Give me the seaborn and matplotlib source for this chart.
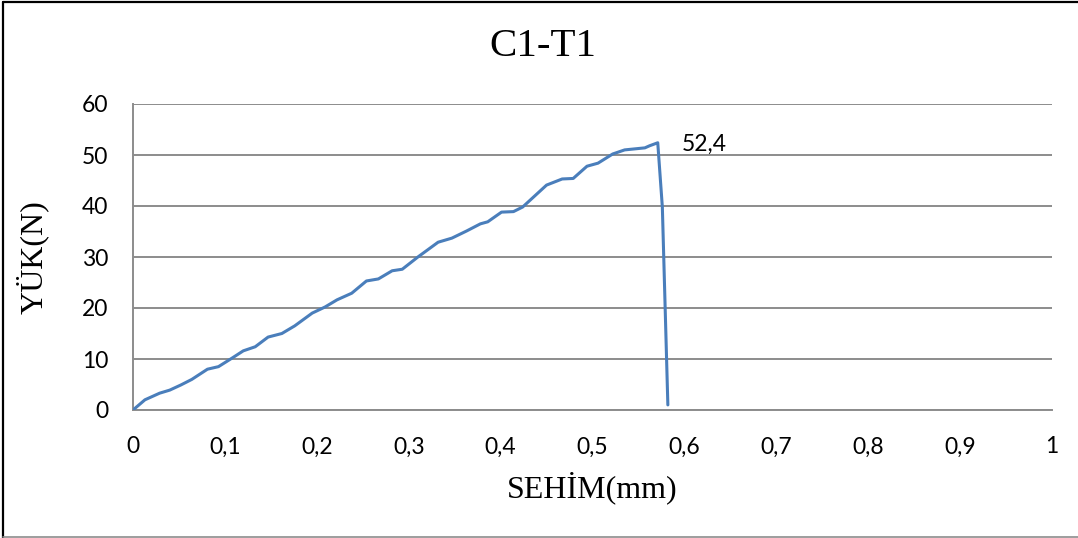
import matplotlib
matplotlib.use("Agg")
import matplotlib.pyplot as plt
from matplotlib.lines import Line2D
import seaborn as sns
import pandas as pd

# Load–deflection record for specimen C1-T1
sehim_mm = [0.000, 0.013, 0.029, 0.040, 0.052, 0.064, 0.081, 0.093, 0.108, 0.120,
            0.133, 0.147, 0.162, 0.176, 0.195, 0.209, 0.222, 0.238, 0.254, 0.267,
            0.282, 0.293, 0.310, 0.332, 0.347, 0.363, 0.378, 0.386, 0.401, 0.414,
            0.424, 0.450, 0.467, 0.479, 0.494, 0.506, 0.522, 0.535, 0.557, 0.562,
            0.571, 0.576, 0.582]
yuk_n = [0.0, 2.0, 3.3, 3.9, 4.9, 6.0, 8.0, 8.5, 10.2, 11.6,
         12.4, 14.3, 15.0, 16.5, 19.0, 20.2, 21.6, 22.9, 25.3, 25.7,
         27.3, 27.6, 30.0, 32.9, 33.7, 35.1, 36.5, 36.9, 38.8, 38.9,
         39.8, 44.1, 45.3, 45.4, 47.8, 48.4, 50.2, 51.0, 51.4, 51.8,
         52.4, 39.8, 1.0]

x_ticks = [0, 0.1, 0.2, 0.3, 0.4, 0.5, 0.6, 0.7, 0.8, 0.9, 1]
x_tick_labels = ["0", "0,1", "0,2", "0,3", "0,4", "0,5", "0,6", "0,7", "0,8", "0,9", "1"]
y_ticks = [0, 10, 20, 30, 40, 50, 60]

title = "C1-T1"
x_label = "SEHİM(mm)"
y_label = "YÜK(N)"

df = pd.DataFrame({"sehim": sehim_mm, "yuk": yuk_n})
peak_idx = df["yuk"].idxmax()
peak_x, peak_y = df.loc[peak_idx, "sehim"], df.loc[peak_idx, "yuk"]

sns.set_style("white")
plt.rcParams["font.family"] = ["Lato", "DejaVu Sans"]
plt.rcParams["text.color"] = "black"
plt.rcParams["axes.labelcolor"] = "black"

fig = plt.figure(figsize=(10.78, 5.38), dpi=100)
ax = fig.add_axes([133 / 1078, 1 - 410 / 538, (1052 - 133) / 1078, (410 - 104) / 538])

grid_color = "#8c8c8c"
sns.lineplot(data=df, x="sehim", y="yuk", ax=ax, sort=False, estimator=None,
             color="#4a7ebb", linewidth=2.2, zorder=3)

ax.set_xlim(0, 1)
ax.set_ylim(0, 60)
ax.set_xticks(x_ticks)
ax.set_xticklabels(x_tick_labels)
ax.set_yticks(y_ticks)
ax.tick_params(axis="both", length=0, labelsize=16.5, colors="black")
ax.tick_params(axis="y", pad=18)
ax.tick_params(axis="x", pad=19)

ax.yaxis.grid(True, color=grid_color, linewidth=1.4)
ax.xaxis.grid(False)
for side in ("top", "right"):
    ax.spines[side].set_visible(False)
for side in ("left", "bottom"):
    ax.spines[side].set_color(grid_color)
    ax.spines[side].set_linewidth(1.4)

serif = ["Liberation Serif", "DejaVu Serif"]
ax.set_xlabel(x_label, fontsize=23, family=serif, va="center")
ax.xaxis.set_label_coords(0.5, -0.255)
ax.set_ylabel(y_label, fontsize=23, family=serif, va="center")
ax.yaxis.set_label_coords(-(133 - 32) / 919, 0.5)

fig.text(543 / 1078, 1 - 47 / 538, title, fontsize=29.5, family=serif,
         ha="center", va="center")

ax.annotate(f"{peak_y:.1f}".replace(".", ","), xy=(peak_x, peak_y),
            xytext=(24, -2), textcoords="offset pixels",
            ha="left", va="center", fontsize=16.5)

# Chart frame
fig.add_artist(Line2D([3 / 1078, 3 / 1078], [0, 1 - 2 / 538], color="black",
                      linewidth=1.6, transform=fig.transFigure))
fig.add_artist(Line2D([3 / 1078, 1], [1 - 2 / 538, 1 - 2 / 538], color="black",
                      linewidth=1.6, transform=fig.transFigure))
fig.add_artist(Line2D([3 / 1078, 1], [1 / 538, 1 / 538], color="#8c8c8c",
                      linewidth=1.2, transform=fig.transFigure))

fig.savefig("out.png", dpi=100, facecolor="white")
